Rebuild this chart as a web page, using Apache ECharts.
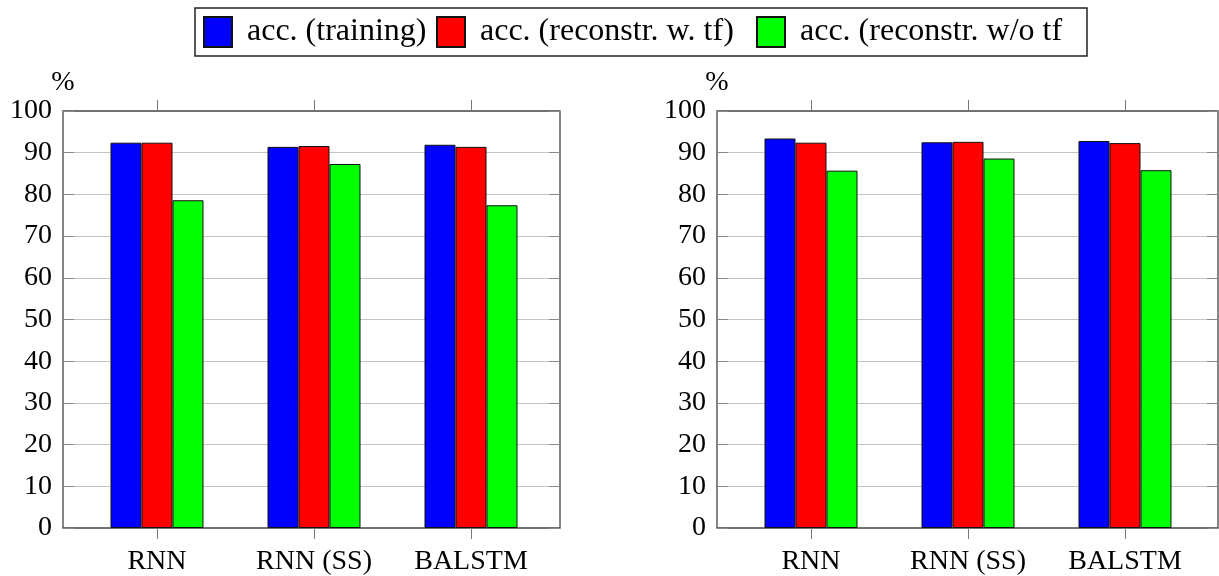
<!DOCTYPE html>
<html>
<head>
<meta charset="utf-8">
<title>accuracy</title>
<script src="https://cdn.jsdelivr.net/npm/echarts@6/dist/echarts.min.js"></script>
<style>
    html, body { margin: 0; padding: 0; background: #fff; }
    #barChart { width: 1219px; height: 576px; }
</style>
</head>
<body>
<div id="barChart"></div>
<script>
// data
var categories = ['RNN', 'RNN (SS)', 'BALSTM'];
var seriesNames = ['acc. (training)', 'acc. (reconstr. w. tf)', 'acc. (reconstr. w/o tf'];
var leftTraining = [92.4, 91.4, 91.9];
var leftWithTf = [92.4, 91.6, 91.4];
var leftWithoutTf = [78.6, 87.3, 77.4];
var rightTraining = [93.4, 92.5, 92.8];
var rightWithTf = [92.4, 92.6, 92.3];
var rightWithoutTf = [85.7, 88.6, 85.8];
var yTicks = [0, 10, 20, 30, 40, 50, 60, 70, 80, 90, 100];

var colors = ['#0000ff', '#ff0000', '#00ff00'];
var font = 'Liberation Serif';
// where each legend entry starts (the TeX font is wider than ours)
var legendLefts = [203, 436, 756];

// frame axes (border, grid lines, y labels) and data axes (bars, categories)
function frameY(grid, name) {
    return {
        gridIndex: grid,
        type: 'value',
        min: yTicks[0],
        max: yTicks[yTicks.length - 1],
        interval: 10,
        name: name,
        nameLocation: 'end',
        nameGap: 9,
        nameTextStyle: { fontFamily: font, fontSize: 28, color: '#000' },
        axisLine: { show: false },
        axisTick: { show: true, inside: true, length: 11, lineStyle: { color: '#888', width: 1 } },
        axisLabel: { fontFamily: font, fontSize: 28, color: '#000', margin: 11 },
        splitLine: { show: true, showMinLine: false, showMaxLine: false, lineStyle: { color: '#c4c4c4', width: 1 } }
    };
}
function frameYRight(grid) {
    return {
        gridIndex: grid,
        type: 'value',
        position: 'right',
        min: 0,
        max: 100,
        interval: 10,
        axisLine: { show: false },
        axisTick: { show: true, inside: true, length: 11, lineStyle: { color: '#888', width: 1 } },
        axisLabel: { show: false },
        splitLine: { show: false }
    };
}
function dataX(grid, pos, labels) {
    return {
        gridIndex: grid,
        type: 'category',
        position: pos,
        data: categories,
        axisLine: { show: false },
        axisTick: { show: true, alignWithLabel: true, inside: false, length: 11, lineStyle: { color: '#777', width: 1 } },
        axisLabel: { show: labels, fontFamily: font, fontSize: 28, color: '#000', margin: 20 },
        splitLine: { show: false }
    };
}
function hiddenX(grid) {
    return { gridIndex: grid, type: 'value', min: 0, max: 1, show: false };
}
function hiddenY(grid) {
    return { gridIndex: grid, type: 'value', min: 0, max: 100, show: false };
}
function bars(name, color, data, xi, yi) {
    return {
        name: name,
        type: 'bar',
        xAxisIndex: xi,
        yAxisIndex: yi,
        data: data,
        barWidth: 31,
        barGap: '0%',
        itemStyle: { color: color, borderColor: '#111', borderWidth: 1 },
        z: 3
    };
}
function legendEntry(i) {
    return {
        left: legendLefts[i],
        top: 16,
        padding: 0,
        itemWidth: 28,
        itemHeight: 30,
        icon: 'rect',
        data: [seriesNames[i]],
        textStyle: { fontFamily: font, fontSize: 32, color: '#000', padding: [0, 0, 0, 10] }
    };
}

var frameStyle = { show: true, borderColor: '#444', borderWidth: 1.3, backgroundColor: 'transparent' };

var option = {
    animation: false,
    legend: [legendEntry(0), legendEntry(1), legendEntry(2)],
    graphic: [{
        // box round the legend entries
        type: 'rect',
        shape: { x: 195, y: 8, width: 892, height: 48 },
        style: { fill: null, stroke: '#222', lineWidth: 1.5 },
        silent: true
    }],
    grid: [
        Object.assign({ left: 63, top: 111, width: 497, height: 417 }, frameStyle),
        { left: 78.5, top: 111, width: 471, height: 417 },
        Object.assign({ left: 717, top: 111, width: 501, height: 417 }, frameStyle),
        { left: 732.5, top: 111, width: 471, height: 417 }
    ],
    xAxis: [
        hiddenX(0),
        dataX(1, 'bottom', true),
        dataX(1, 'top', false),
        hiddenX(2),
        dataX(3, 'bottom', true),
        dataX(3, 'top', false)
    ],
    yAxis: [
        frameY(0, '%'),
        frameYRight(0),
        hiddenY(1),
        frameY(2, '%'),
        frameYRight(2),
        hiddenY(3)
    ],
    series: [
        bars(seriesNames[0], colors[0], leftTraining, 1, 2),
        bars(seriesNames[1], colors[1], leftWithTf, 1, 2),
        bars(seriesNames[2], colors[2], leftWithoutTf, 1, 2),
        bars(seriesNames[0], colors[0], rightTraining, 4, 5),
        bars(seriesNames[1], colors[1], rightWithTf, 4, 5),
        bars(seriesNames[2], colors[2], rightWithoutTf, 4, 5)
    ]
};

var barChart = echarts.init(document.getElementById('barChart'));
if (option && typeof option === 'object') {
    barChart.setOption(option, true);
}
window.addEventListener('resize', function () {
    setTimeout(function () {
        barChart.resize();
    }, 0);
});
</script>
</body>
</html>
